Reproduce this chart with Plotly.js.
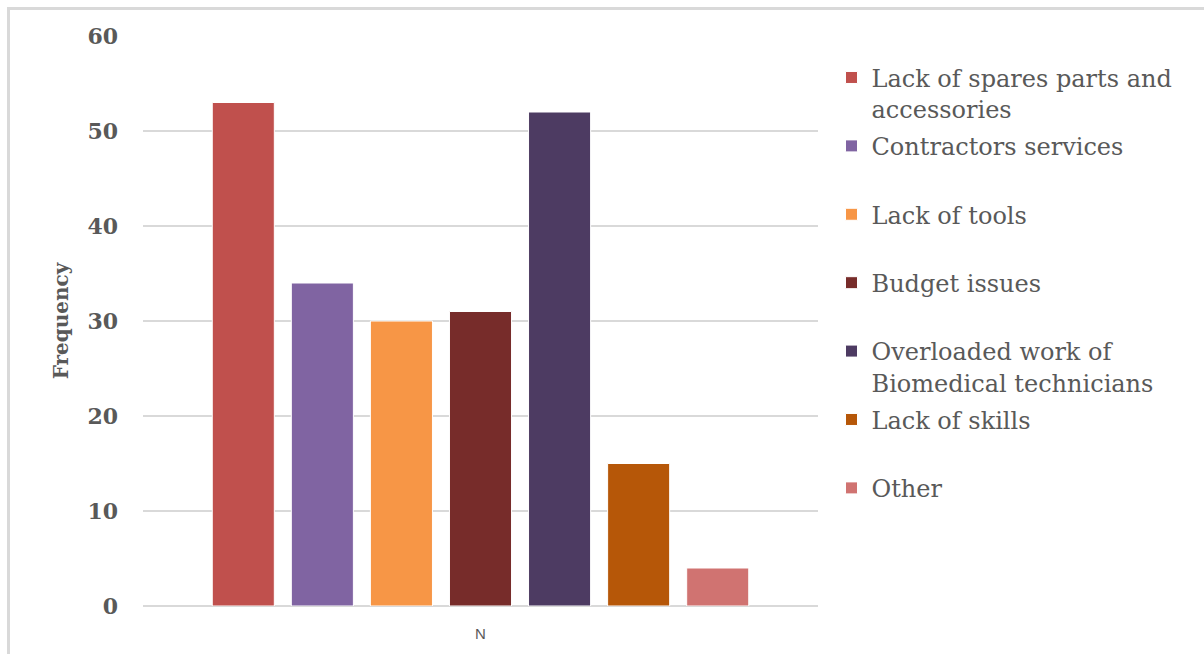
<!DOCTYPE html>
<html>
<head>
<meta charset="utf-8">
<script src="https://cdn.plot.ly/plotly-3.0.1.min.js"></script>
<style>
  html, body { margin: 0; padding: 0; background: #ffffff; }
  #chart { position: absolute; left: 0; top: 0; width: 1204px; height: 654px; }
  #frame { position: absolute; left: 7px; top: 7px; width: 1197px; height: 647px;
           border-left: 3px solid #d9d9d9; border-top: 3px solid #d9d9d9;
           pointer-events: none; box-sizing: border-box; }
</style>
</head>
<body>
<div id="chart"></div>
<div id="frame"></div>
<script>
// Reasons reported for delays in equipment maintenance
const category = ["N"];
const reasons = [
  "Lack of spares parts and<br>accessories",
  "Contractors services",
  "Lack of tools",
  "Budget issues",
  "Overloaded work of<br>Biomedical technicians",
  "Lack of skills",
  "Other"
];
const frequency = [53, 34, 30, 31, 52, 15, 4];
const colors = ["#C0504D", "#8064A2", "#F79646", "#772C2A", "#4D3B62", "#B65708", "#D07371"];

const serif = "DejaVu Serif, serif";

// single-line names get an empty second line so every legend row has the same height
const legendNames = reasons.map(r => r.includes("<br>") ? r : r + "<br>&nbsp;");

const traces = frequency.map((v, i) => ({
  type: "bar",
  x: category,
  y: [v],
  name: legendNames[i],
  legendgroup: "reason" + i,
  marker: { color: colors[i], line: { color: "#ffffff", width: 1 } },
  hoverinfo: "y"
}));

const layout = {
  width: 1204,
  height: 654,
  margin: { l: 143, r: 386, t: 36, b: 48 },
  paper_bgcolor: "#ffffff",
  plot_bgcolor: "#ffffff",
  barmode: "group",
  bargap: 0.18,
  bargroupgap: 0.215,
  showlegend: true,
  legend: {
    x: 1.02, xanchor: "left",
    y: 0.966, yanchor: "top",
    valign: "top",
    traceorder: "grouped",
    tracegroupgap: 3,
    font: { family: serif, size: 24, color: "#595959" },
    itemwidth: 30,
    bgcolor: "rgba(0,0,0,0)"
  },
  xaxis: {
    showgrid: false,
    showline: false,
    ticks: "",
    tickfont: { family: "Liberation Sans, Arial, sans-serif", size: 15, color: "#595959" },
    ticklabelstandoff: 17
  },
  yaxis: {
    range: [0, 60],
    dtick: 10,
    showgrid: true,
    gridcolor: "#d9d9d9",
    gridwidth: 1.3,
    zeroline: true,
    zerolinecolor: "#d9d9d9",
    zerolinewidth: 1.3,
    showline: false,
    ticks: "",
    ticklabelstandoff: 24,
    tickfont: { family: serif, size: 22, color: "#595959", weight: "bold" },
    title: {
      text: "Frequency",
      font: { family: serif, size: 20, color: "#595959", weight: "bold" },
      standoff: 13
    }
  }
};

Plotly.newPlot("chart", traces, layout, { displayModeBar: false, staticPlot: true });
</script>
</body>
</html>
